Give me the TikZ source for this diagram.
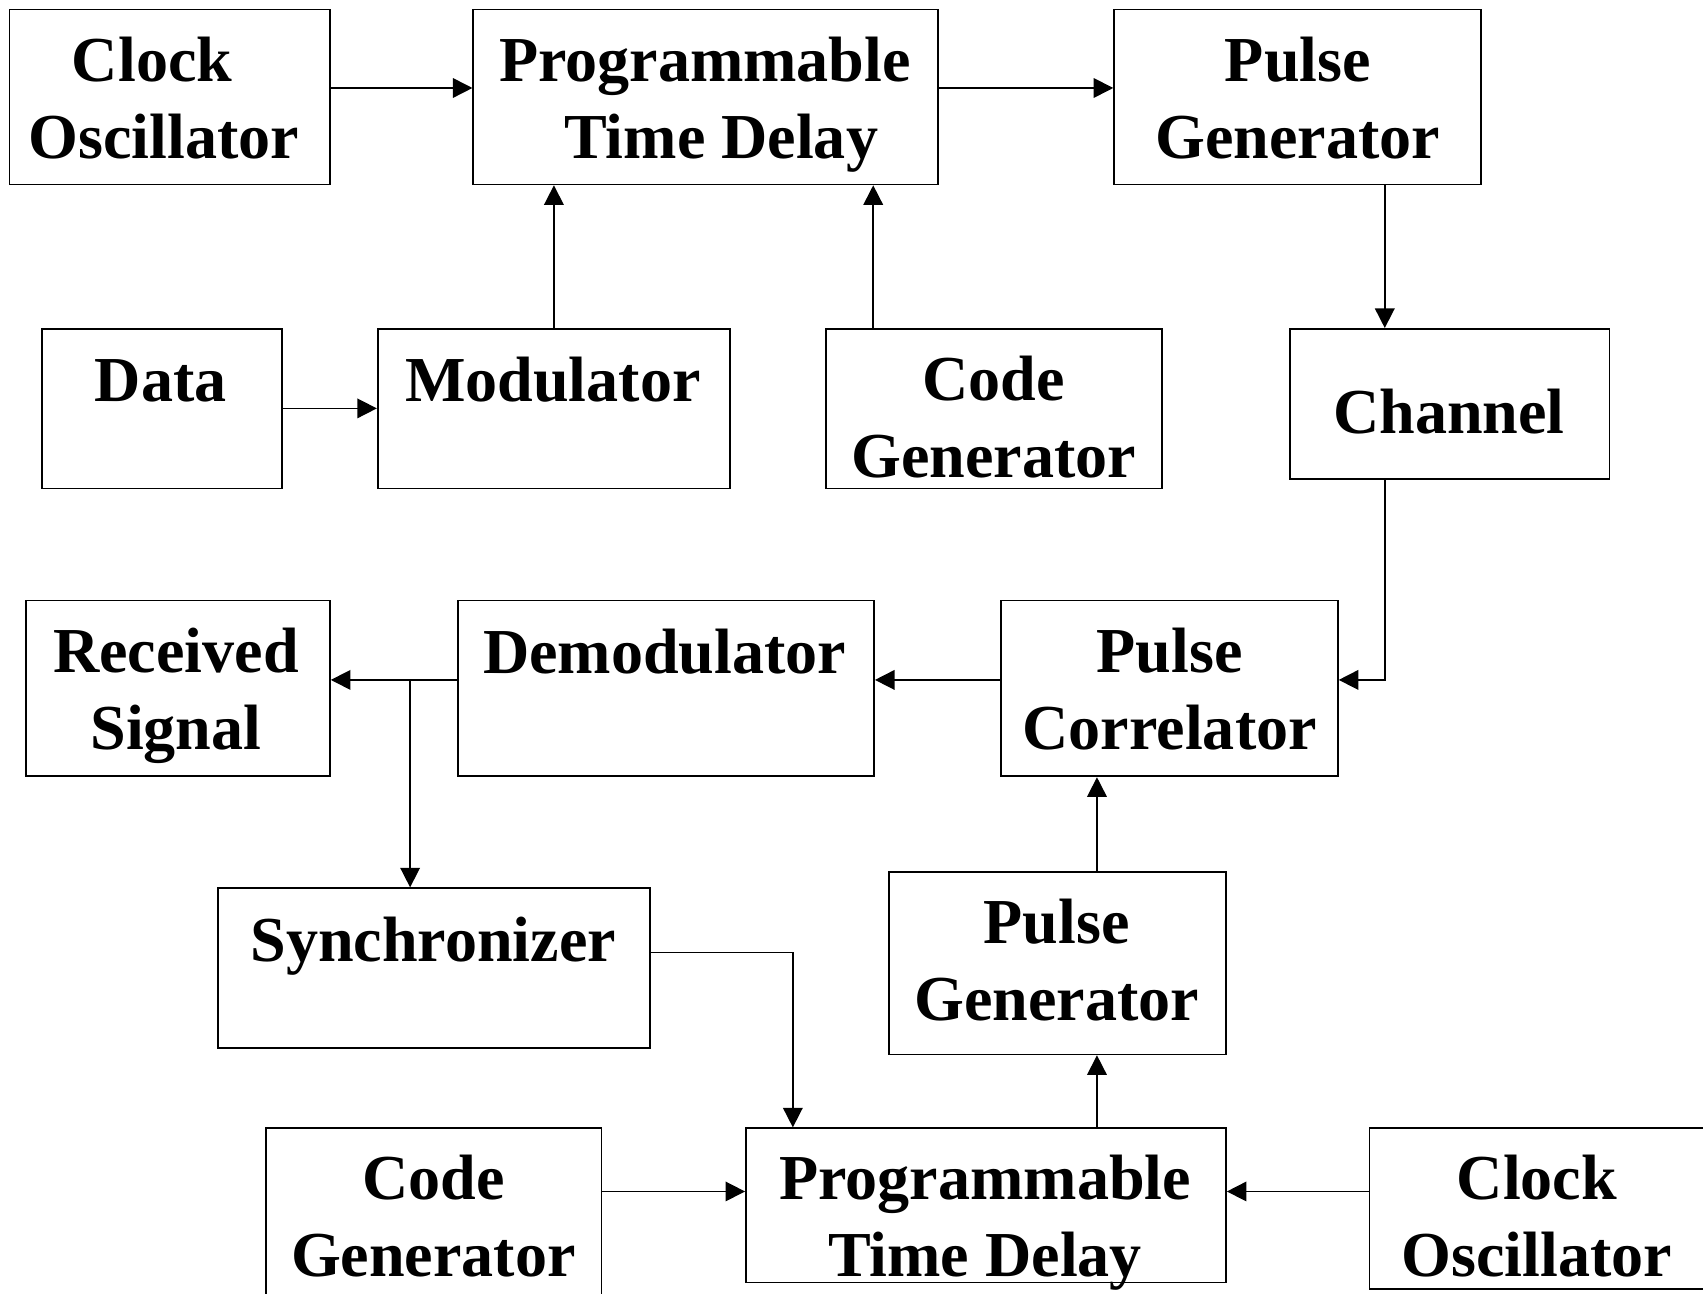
\documentclass[tikz,border=0pt]{standalone}
\usepackage{fontspec}
\setmainfont{Liberation Serif}
\usetikzlibrary{arrows.meta,calc}
\tikzset{
  box/.style={draw, line width=0.8pt, inner sep=0pt, anchor=north west},
  lbl/.style={font=\bfseries\fontsize{29.5}{35.5}\selectfont, align=center, anchor=base, inner sep=0pt},
  arr/.style={line width=0.75pt, -{Triangle[length=9pt,width=9pt]}},
  ln/.style={line width=0.75pt}
}
\newcommand\mybox[5]{\node[box, minimum width={(#4-#2)*0.5pt}, minimum height={(#5-#3)*0.5pt}] (#1) at (#2,#3) {};}
\begin{document}
\begin{tikzpicture}[x=0.5pt,y=-0.5pt]
\useasboundingbox (0,0) rectangle (1568,1191);
\clip (0,0) rectangle (1568,1191);
% boxes
\mybox{co1}{8}{8}{303}{169}
\mybox{ptd1}{435}{8}{863}{169}
\mybox{pg1}{1025}{8}{1363}{169}
\mybox{data}{38}{302}{259}{449}
\mybox{mod}{347}{302}{671}{449}
\mybox{cg1}{760}{302}{1069}{449}
\mybox{ch}{1187}{302}{1481}{440}
\mybox{rs}{23}{552}{303}{714}
\mybox{dem}{421}{552}{804}{714}
\mybox{pc}{921}{552}{1231}{714}
\mybox{sync}{200}{817}{598}{964}
\mybox{pg2}{818}{802}{1128}{970}
\mybox{cg2}{244}{1038}{553}{1210}
\mybox{ptd2}{686}{1038}{1128}{1180}
\mybox{co2}{1260}{1038}{1580}{1186}
% labels (base anchor = baseline of the last line)
\node[lbl] (tco1) at (151,146) {Clock\hspace*{11pt}\\Oscillator};
\node[lbl] (tptd1) at (649,146) {Programmable\\\hspace*{15pt}Time Delay};
\node[lbl] (tpg1) at (1195,146) {Pulse\\Generator};
\node[lbl] (tdata) at (148,370) {Data};
\node[lbl] (tmod) at (509,370) {Modulator};
\node[lbl] (tcg1) at (915,440) {Code\\Generator};
\node[lbl] (tch) at (1334,399) {Channel};
\node[lbl] (trs) at (162,690) {Received\\Signal};
\node[lbl] (tdem) at (612,620) {Demodulator};
\node[lbl] (tpc) at (1077,690) {Pulse\\Correlator};
\node[lbl] (tsync) at (399,885) {Synchronizer};
\node[lbl] (tpg2) at (973,940) {Pulse\\Generator};
\node[lbl] (tcg2) at (399,1175) {Code\\Generator};
\node[lbl] (tptd2) at (907,1175) {Programmable\\Time Delay};
\node[lbl] (tco2) at (1415,1175) {Clock\\Oscillator};
% connectors
\draw[arr] ($(co1.north east)+(0,73)$) coordinate (a1) -- (a1 -| ptd1.west);
\draw[arr] ($(ptd1.north east)+(0,73)$) coordinate (a2) -- (a2 -| pg1.west);
\draw[arr] ($(mod.north west)+(163,0)$) coordinate (a3) -- (a3 |- ptd1.south);
\draw[arr] ($(cg1.north west)+(44,0)$) coordinate (a4) -- (a4 |- ptd1.south);
\draw[arr] ($(data.north east)+(0,74)$) coordinate (a5) -- (a5 -| mod.west);
\draw[arr] ($(pg1.south west)+(250,0)$) coordinate (a6) -- (a6 |- ch.north);
\draw[arr] ($(ch.south west)+(88,0)$) |- ($(pc.north east)+(0,74)$);
\draw[arr] ($(pc.north west)+(0,74)$) coordinate (a8) -- (a8 -| dem.east);
\draw[arr] ($(dem.north west)+(0,74)$) coordinate (a9) -- (a9 -| rs.east);
\coordinate (br) at ($(rs.north east)+(73,74)$);
\draw[arr] (br) -- (br |- sync.north);
\draw[arr] ($(sync.north east)+(0,60)$) -| ($(ptd2.north west)+(44,0)$);
\draw[arr] ($(ptd2.north west)+(324,0)$) coordinate (a12) -- (a12 |- pg2.south);
\draw[arr] ($(pg2.north west)+(192,0)$) coordinate (a13) -- (a13 |- pc.south);
\draw[arr] ($(cg2.north east)+(0,59)$) coordinate (a14) -- (a14 -| ptd2.west);
\draw[arr] ($(co2.north west)+(0,59)$) coordinate (a15) -- (a15 -| ptd2.east);
\end{tikzpicture}
\end{document}
